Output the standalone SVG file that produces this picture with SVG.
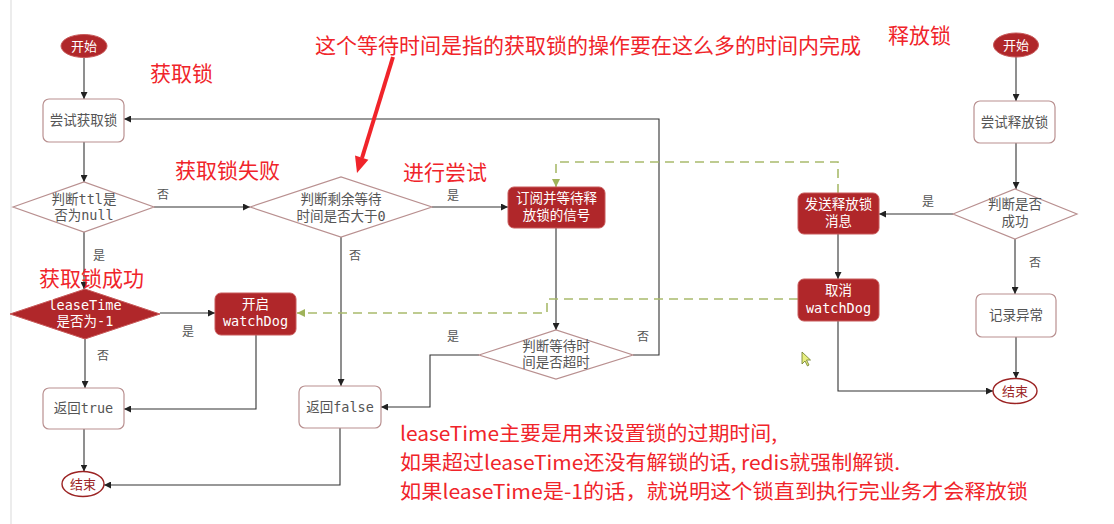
<svg xmlns="http://www.w3.org/2000/svg" width="1114" height="524" viewBox="0 0 1114 524">
<defs>
<marker id="ar" viewBox="0 0 10 10" refX="10" refY="5" markerWidth="7" markerHeight="7" markerUnits="userSpaceOnUse" orient="auto"><path d="M0,0 L10,5 L0,10 z" fill="#222"/></marker>
<marker id="ag" viewBox="0 0 10 10" refX="10" refY="5" markerWidth="8" markerHeight="8" markerUnits="userSpaceOnUse" orient="auto"><path d="M0,0 L10,5 L0,10 z" fill="#9fb35a"/></marker>
</defs>
<style>
.box{fill:#fff;stroke:#b99090;stroke-width:1.2}
.dark{fill:#b0272a;stroke:#c85a5a;stroke-width:1}
.dia{fill:#fff;stroke:#b99090;stroke-width:1.2}
.t{font-family:"DejaVu Sans Mono","Noto Sans CJK SC",monospace;font-size:13.5px;fill:#555;text-anchor:middle}
.tw{font-family:"DejaVu Sans Mono","Noto Sans CJK SC",monospace;font-size:13.5px;fill:#fff;text-anchor:middle}
.te{font-family:"Noto Sans CJK SC",sans-serif;font-size:13px;fill:#9b2323;text-anchor:middle}
.lb{font-family:"Noto Sans CJK SC",sans-serif;font-size:12px;fill:#555;text-anchor:middle}
.red{font-family:"Noto Sans CJK SC",sans-serif;font-size:21px;fill:#f0242a}
.note{font-family:"Noto Sans CJK SC",sans-serif;font-size:20px;fill:#f0242a}
.c{fill:none;stroke:#333;stroke-width:1.1}
.g{fill:none;stroke:#a9bb6c;stroke-width:1.6;stroke-dasharray:9,6}
</style>
<rect width="1114" height="524" fill="#fff"/>
<line x1="11" y1="0" x2="11" y2="524" stroke="#e6e6e6" stroke-width="1.5"/>

<g id="connectors">
<path class="c" d="M84,57.5 V99" marker-end="url(#ar)"/>
<path class="c" d="M84,142 V182" marker-end="url(#ar)"/>
<path class="c" d="M154,207 H250" marker-end="url(#ar)"/>
<path class="c" d="M432,207 H508" marker-end="url(#ar)"/>
<path class="c" d="M556,228 V330" marker-end="url(#ar)"/>
<path class="c" d="M479,355 H430 V407 H381" marker-end="url(#ar)"/>
<path class="c" d="M633,355 H659 V119 H124" marker-end="url(#ar)"/>
<path class="c" d="M341,237 V386" marker-end="url(#ar)"/>
<path class="c" d="M340,428 V485 H104" marker-end="url(#ar)"/>
<path class="c" d="M84,232 V289" marker-end="url(#ar)"/>
<path class="c" d="M160,313 H215" marker-end="url(#ar)"/>
<path class="c" d="M256,335 V409 H124" marker-end="url(#ar)"/>
<path class="c" d="M85,339 V388" marker-end="url(#ar)"/>
<path class="c" d="M84,429 V471.5" marker-end="url(#ar)"/>
<path class="c" d="M1016,57 V101" marker-end="url(#ar)"/>
<path class="c" d="M1016,143 V189" marker-end="url(#ar)"/>
<path class="c" d="M953,214 H879" marker-end="url(#ar)"/>
<path class="c" d="M838,234 V279" marker-end="url(#ar)"/>
<path class="c" d="M838,321 V391 H993" marker-end="url(#ar)"/>
<path class="c" d="M1015,239 V294" marker-end="url(#ar)"/>
<path class="c" d="M1016,337 V378.5" marker-end="url(#ar)"/>
<path class="g" d="M838,193 V162 H556 V187" marker-end="url(#ag)"/>
<path class="g" d="M798,299 H547 V313 H297" marker-end="url(#ag)"/>
<text class="lb" x="163" y="199">否</text>
<text class="lb" x="453" y="200">是</text>
<text class="lb" x="355" y="260">否</text>
<text class="lb" x="453" y="341">是</text>
<text class="lb" x="643" y="341">否</text>
<text class="lb" x="99" y="260">是</text>
<text class="lb" x="188" y="336">是</text>
<text class="lb" x="103" y="360">否</text>
<text class="lb" x="928" y="206">是</text>
<text class="lb" x="1035" y="267">否</text>
</g>

<g id="start1"><ellipse cx="84" cy="46" rx="23" ry="11.5" class="dark"/><text class="tw" x="84" y="50.5" style="font-size:13px">开始</text></g>
<g id="tryAcquire"><rect class="box" x="43" y="99" width="81" height="43" rx="6"/><text class="t" x="83.5" y="125">尝试获取锁</text></g>
<g id="checkTtl"><polygon class="dia" points="13,207 84,182 154,207 84,232"/><text class="t" x="84" y="204">判断ttl是</text><text class="t" x="84" y="220">否为null</text></g>
<g id="checkWait"><polygon class="dia" points="250,207 341,177 432,207 341,237"/><text class="t" x="341" y="204">判断剩余等待</text><text class="t" x="341" y="221">时间是否大于0</text></g>
<g id="subscribe"><rect class="dark" x="508" y="187" width="97" height="41" rx="6"/><text class="tw" x="556.5" y="203">订阅并等待释</text><text class="tw" x="556.5" y="220">放锁的信号</text></g>
<g id="checkTimeout"><polygon class="dia" points="479,355 556,330 633,355 556,379"/><text class="t" x="556" y="351">判断等待时</text><text class="t" x="556" y="367">间是否超时</text></g>
<g id="returnFalse"><rect class="box" x="299" y="386" width="82" height="42" rx="6"/><text class="t" x="340" y="411.5">返回false</text></g>
<g id="leaseTime"><polygon points="10,314 85,289 160,314 85,339" fill="#b0272a" stroke="#c85a5a"/><text class="tw" x="85" y="310">leaseTime</text><text class="tw" x="85" y="326">是否为-1</text></g>
<g id="watchDogOn"><rect class="dark" x="215" y="293" width="81" height="42" rx="6"/><text class="tw" x="255.5" y="309">开启</text><text class="tw" x="255.5" y="326">watchDog</text></g>
<g id="returnTrue"><rect class="box" x="43" y="388" width="81" height="41" rx="6"/><text class="t" x="83.5" y="413">返回true</text></g>
<g id="end1"><ellipse cx="83" cy="484" rx="21" ry="12.5" fill="#fff" stroke="#9b2323" stroke-width="1.4"/><text class="te" x="83" y="488.5">结束</text></g>

<g id="start2"><ellipse cx="1016" cy="45" rx="22.5" ry="12" class="dark"/><text class="tw" x="1016" y="49.5" style="font-size:13px">开始</text></g>
<g id="tryRelease"><rect class="box" x="974" y="101" width="81" height="42" rx="6"/><text class="t" x="1014.5" y="126.5">尝试释放锁</text></g>
<g id="checkSuccess"><polygon class="dia" points="953,214 1015,189 1077,214 1015,239"/><text class="t" x="1015" y="209">判断是否</text><text class="t" x="1015" y="226">成功</text></g>
<g id="sendRelease"><rect class="dark" x="798" y="193" width="81" height="41" rx="6"/><text class="tw" x="838.5" y="209">发送释放锁</text><text class="tw" x="838.5" y="226">消息</text></g>
<g id="watchDogOff"><rect class="dark" x="798" y="279" width="81" height="42" rx="6"/><text class="tw" x="838.5" y="295">取消</text><text class="tw" x="838.5" y="313">watchDog</text></g>
<g id="logError"><rect class="box" x="976" y="294" width="80" height="43" rx="6"/><text class="t" x="1016" y="320">记录异常</text></g>
<g id="end2"><ellipse cx="1015" cy="391" rx="22" ry="12.5" fill="#fff" stroke="#9b2323" stroke-width="1.4"/><text class="te" x="1015" y="395.5">结束</text></g>

<g id="annotations">
<text class="red" x="150" y="81">获取锁</text>
<text class="red" x="175" y="178">获取锁失败</text>
<text class="red" x="403" y="180">进行尝试</text>
<text class="red" x="39" y="286">获取锁成功</text>
<text class="red" x="888" y="43">释放锁</text>
<text class="red" x="315" y="53">这个等待时间是指的获取锁的操作要在这么多的时间内完成</text>
<line x1="393" y1="57" x2="362" y2="158" stroke="#f0242a" stroke-width="4"/>
<polygon points="357,173 368.4,159.8 355,155.6" fill="#f0242a"/>
<text class="note" x="400" y="441" textLength="377" lengthAdjust="spacingAndGlyphs">leaseTime主要是用来设置锁的过期时间,</text>
<text class="note" x="400" y="470" textLength="500" lengthAdjust="spacingAndGlyphs">如果超过leaseTime还没有解锁的话, redis就强制解锁.</text>
<text class="note" x="400" y="499" textLength="628" lengthAdjust="spacingAndGlyphs">如果leaseTime是-1的话，就说明这个锁直到执行完业务才会释放锁</text>
<polygon points="802,352 802,364 805,361 807.5,366 809,365 806.5,360 810.5,360" fill="#e8ef80" stroke="#6b7a2a" stroke-width="0.8"/>
</g>
</svg>
